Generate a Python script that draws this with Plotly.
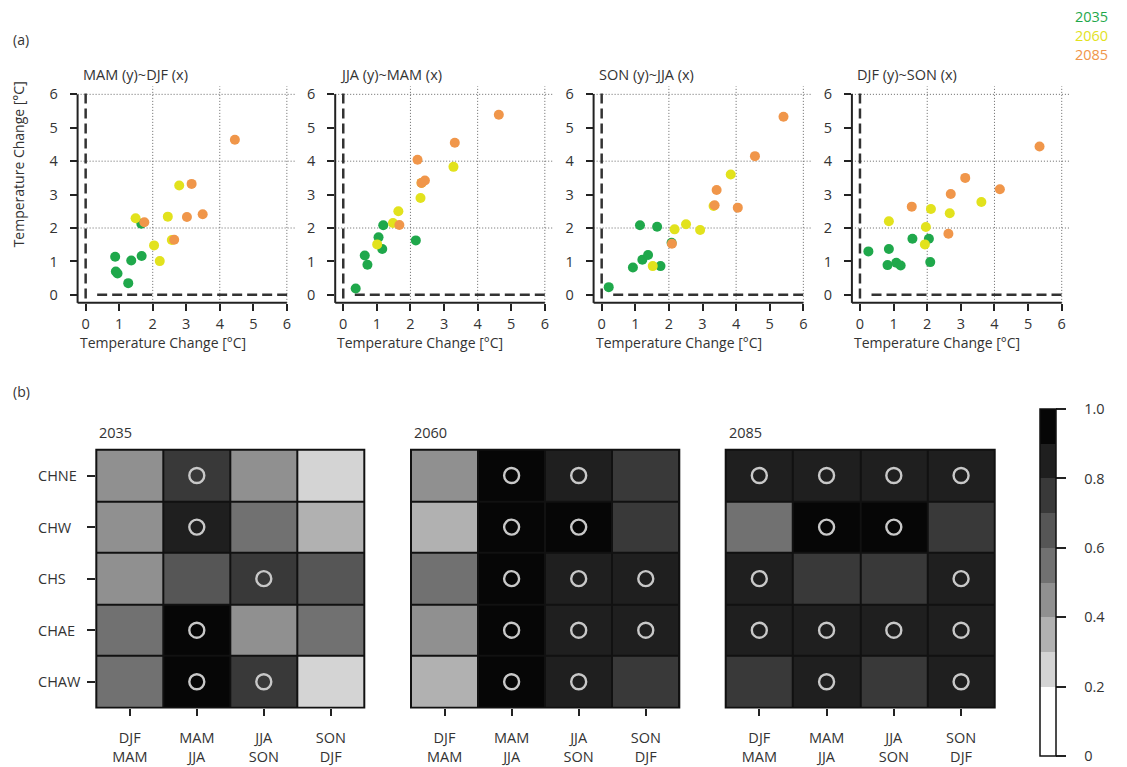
import plotly.graph_objects as go

W, H = 1127, 767
FONT = "Open Sans"
TXT = "#333333"
AX = "#222222"

# ---------------- data ----------------
years = ["2035", "2060", "2085"]
year_colors = ["#1fa84b", "#e2e21d", "#f0964a"]
panel_titles = ["MAM (y)~DJF (x)", "JJA (y)~MAM (x)", "SON (y)~JJA (x)", "DJF (y)~SON (x)"]
axis_title = "Temperature Change [°C]"
scatter_ticks = [0, 1, 2, 3, 4, 5, 6]
grid_vals = [2, 4, 6]

# panel 1: MAM (y) vs DJF (x)
p1_x_2035 = [0.88, 0.90, 0.95, 1.27, 1.36, 1.67, 1.66]
p1_y_2035 = [1.14, 0.70, 0.64, 0.35, 1.03, 1.16, 2.13]
p1_x_2060 = [1.49, 2.04, 2.21, 2.45, 2.79, 2.57]
p1_y_2060 = [2.29, 1.48, 1.01, 2.34, 3.27, 1.64]
p1_x_2085 = [1.75, 2.64, 3.02, 3.16, 3.49, 4.45]
p1_y_2085 = [2.17, 1.65, 2.33, 3.32, 2.41, 4.64]

# panel 2: JJA (y) vs MAM (x)
p2_x_2035 = [0.37, 0.64, 0.72, 1.05, 1.16, 1.19, 2.16]
p2_y_2035 = [0.19, 1.18, 0.90, 1.72, 1.37, 2.08, 1.63]
p2_x_2060 = [1.01, 1.48, 1.64, 2.30, 2.33, 3.28]
p2_y_2060 = [1.51, 2.15, 2.50, 2.90, 3.35, 3.83]
p2_x_2085 = [1.67, 2.21, 2.33, 2.43, 3.32, 4.63]
p2_y_2085 = [2.09, 4.04, 3.35, 3.42, 4.55, 5.39]

# panel 3: SON (y) vs JJA (x)
p3_x_2035 = [0.21, 0.93, 1.21, 1.38, 1.14, 1.65, 1.75, 2.08]
p3_y_2035 = [0.23, 0.82, 1.05, 1.19, 2.08, 2.04, 0.86, 1.56]
p3_x_2060 = [1.52, 2.17, 2.51, 2.93, 3.33, 3.84]
p3_y_2060 = [0.86, 1.96, 2.11, 1.94, 2.66, 3.60]
p3_x_2085 = [2.09, 3.36, 3.42, 4.05, 4.56, 5.41]
p3_y_2085 = [1.53, 2.68, 3.14, 2.61, 4.15, 5.33]

# panel 4: DJF (y) vs SON (x)
p4_x_2035 = [0.25, 0.86, 0.82, 1.08, 1.21, 1.56, 2.05, 2.09]
p4_y_2035 = [1.30, 1.37, 0.89, 0.96, 0.88, 1.68, 1.68, 0.98]
p4_x_2060 = [0.86, 1.96, 1.93, 2.11, 2.67, 3.61]
p4_y_2060 = [2.20, 2.03, 1.51, 2.57, 2.44, 2.78]
p4_x_2085 = [1.54, 2.63, 2.70, 3.13, 4.16, 5.34]
p4_y_2085 = [2.64, 1.83, 3.02, 3.50, 3.16, 4.44]

regions = ["CHNE", "CHW", "CHS", "CHAE", "CHAW"]
season_pairs = ["DJF<br>MAM", "MAM<br>JJA", "JJA<br>SON", "SON<br>DJF"]

hm_2035 = [[0.45, 0.75, 0.45, 0.25],
           [0.45, 0.85, 0.55, 0.35],
           [0.45, 0.65, 0.75, 0.65],
           [0.55, 0.95, 0.45, 0.55],
           [0.55, 0.95, 0.75, 0.25]]
sig_2035 = [[0, 1, 0, 0],
            [0, 1, 0, 0],
            [0, 0, 1, 0],
            [0, 1, 0, 0],
            [0, 1, 1, 0]]
hm_2060 = [[0.45, 0.95, 0.85, 0.75],
           [0.35, 0.95, 0.95, 0.75],
           [0.55, 0.95, 0.85, 0.85],
           [0.45, 0.95, 0.85, 0.85],
           [0.35, 0.95, 0.85, 0.75]]
sig_2060 = [[0, 1, 1, 0],
            [0, 1, 1, 0],
            [0, 1, 1, 1],
            [0, 1, 1, 1],
            [0, 1, 1, 0]]
hm_2085 = [[0.85, 0.85, 0.85, 0.85],
           [0.55, 0.95, 0.95, 0.75],
           [0.85, 0.75, 0.75, 0.85],
           [0.85, 0.85, 0.85, 0.85],
           [0.75, 0.85, 0.75, 0.85]]
sig_2085 = [[1, 1, 1, 1],
            [0, 1, 1, 0],
            [1, 0, 0, 1],
            [1, 1, 1, 1],
            [0, 1, 0, 1]]

band_edges = [0.0, 0.2, 0.3, 0.4, 0.5, 0.6, 0.7, 0.8, 0.9, 1.0]
band_colors = ["#ffffff", "#d4d4d4", "#b1b1b1", "#909090", "#717171",
               "#565656", "#393939", "#1f1f1f", "#060606"]
cbar_ticks = [0, 0.2, 0.4, 0.6, 0.8, 1.0]
cbar_ticktext = ["0", "0.2", "0.4", "0.6", "0.8", "1.0"]

# ---------------- layout helpers ----------------
def fx(px):
    return px / W

def fy(py):
    return 1 - py / H

def axnames(n):
    s = "" if n == 1 else str(n)
    return "x" + s, "y" + s, "xaxis" + s, "yaxis" + s

RNG = [-0.24, 6.24]
scatter_px = [(77.6, 294.9), (335.2, 552.9), (593.6, 811.4), (851.9, 1069.8)]
scatter_py = (84.65, 302.05)
heat_px = [(96.3, 364.3), (411.0, 679.3), (725.7, 994.7)]
heat_py = (449.5, 708.3)
cbar_px = (1039.5, 408.3, 757.0)  # left, top, bottom

fig = go.Figure()
shapes = []
annotations = []

panels = [
    [(p1_x_2035, p1_y_2035), (p1_x_2060, p1_y_2060), (p1_x_2085, p1_y_2085)],
    [(p2_x_2035, p2_y_2035), (p2_x_2060, p2_y_2060), (p2_x_2085, p2_y_2085)],
    [(p3_x_2035, p3_y_2035), (p3_x_2060, p3_y_2060), (p3_x_2085, p3_y_2085)],
    [(p4_x_2035, p4_y_2035), (p4_x_2060, p4_y_2060), (p4_x_2085, p4_y_2085)],
]

axis_font = dict(family=FONT, size=14.5, color=TXT)
GRID = dict(color="#666666", width=1, dash="1px,2px")
ZERO = dict(color="#333333", width=2.5, dash="10px,5px")

for i, series in enumerate(panels):
    xa, ya, xkey, ykey = axnames(i + 1)
    for (xs, ys), col, yr in zip(series, year_colors, years):
        fig.add_trace(go.Scatter(x=xs, y=ys, mode="markers", xaxis=xa, yaxis=ya,
                                 marker=dict(size=10, color=col, line=dict(width=0)),
                                 name=yr, showlegend=False, hoverinfo="x+y"))
    x0, x1 = scatter_px[i]
    common = dict(range=RNG, tickvals=scatter_ticks, ticks="outside", ticklen=7,
                  tickwidth=1.5, tickcolor=AX, showgrid=False, zeroline=False,
                  showline=False, tickfont=axis_font, fixedrange=True)
    fig.layout[xkey] = dict(domain=[fx(x0), fx(x1)], anchor=ya,
                            ticklabelstandoff=1, **common)
    fig.layout[ykey] = dict(domain=[fy(scatter_py[1]), fy(scatter_py[0])],
                            anchor=xa, ticklabelstandoff=9, **common)
    # dotted grid
    for g in grid_vals:
        shapes.append(dict(type="line", xref=xa, yref=f"{ya} domain", x0=g, x1=g, y0=0, y1=1,
                           line=GRID, layer="below"))
        shapes.append(dict(type="line", xref=f"{xa} domain", yref=ya, x0=0, x1=1, y0=g, y1=g,
                           line=GRID, layer="below"))
    # dashed zero lines
    shapes.append(dict(type="line", xref=xa, yref=f"{ya} domain", x0=0, x1=0, y0=0.02, y1=0.98,
                       line=ZERO, layer="below"))
    shapes.append(dict(type="line", xref=f"{xa} domain", yref=ya, x0=0.09, x1=0.98, y0=0, y1=0,
                       line=ZERO, layer="below"))
    # L-shaped axis lines (corner to 6)
    scale = (x1 - x0) / (RNG[1] - RNG[0])
    px6 = x0 + (6 - RNG[0]) * scale
    py6 = scatter_py[1] - (6 - RNG[0]) * scale
    shapes.append(dict(type="line", xref="paper", yref="paper", x0=fx(x0), x1=fx(x0),
                       y0=fy(scatter_py[1]), y1=fy(py6), line=dict(color=AX, width=2)))
    shapes.append(dict(type="line", xref="paper", yref="paper", x0=fx(x0), x1=fx(px6),
                       y0=fy(scatter_py[1]), y1=fy(scatter_py[1]), line=dict(color=AX, width=2)))
    # title
    annotations.append(dict(text=panel_titles[i], xref="paper", yref="paper",
                            x=fx(x0 + 3), y=fy(72.5), xanchor="left", yanchor="middle",
                            showarrow=False, font=dict(family=FONT, size=14.5, color=TXT)))
    # x axis title
    annotations.append(dict(text=axis_title, xref="paper", yref="paper",
                            x=fx(x0 + 85), y=fy(341.5), xanchor="center", yanchor="middle",
                            showarrow=False, font=dict(family=FONT, size=14, color=TXT)))

# y axis title (panel 1 only)
annotations.append(dict(text=axis_title, xref="paper", yref="paper", x=fx(18), y=fy(163),
                        xanchor="center", yanchor="middle", textangle=-90, showarrow=False,
                        font=dict(family=FONT, size=14, color=TXT)))

# legend text (colored)
for k, (yr, col) in enumerate(zip(years, year_colors)):
    annotations.append(dict(text=yr, xref="paper", yref="paper", x=fx(1110), y=fy(15 + 18.7 * k),
                            xanchor="right", yanchor="middle", showarrow=False,
                            font=dict(family=FONT, size=14.5, color=col)))

# panel labels
annotations.append(dict(text="(a)", xref="paper", yref="paper", x=fx(11), y=fy(38),
                        xanchor="left", yanchor="middle", showarrow=False,
                        font=dict(family=FONT, size=14, color=TXT)))
annotations.append(dict(text="(b)", xref="paper", yref="paper", x=fx(11), y=fy(391),
                        xanchor="left", yanchor="middle", showarrow=False,
                        font=dict(family=FONT, size=14, color=TXT)))

# ---------------- heatmaps ----------------
colorscale = []
for lo, hi, c in zip(band_edges[:-1], band_edges[1:], band_colors):
    colorscale.append([lo, c])
    colorscale.append([hi, c])

heat_data = [(hm_2035, sig_2035), (hm_2060, sig_2060), (hm_2085, sig_2085)]
cols_idx = list(range(len(season_pairs)))
rows_idx = list(range(len(regions)))
PAD = "\u00a0\u00a0\u00a0\u00a0"

for j, (z, sig) in enumerate(heat_data):
    xa, ya, xkey, ykey = axnames(5 + j)
    x0, x1 = heat_px[j]
    show_cb = (j == 2)
    fig.add_trace(go.Heatmap(
        z=z, x=cols_idx, y=rows_idx, xaxis=xa, yaxis=ya, zmin=0, zmax=1,
        colorscale=colorscale, xgap=2, ygap=2, showscale=show_cb,
        colorbar=dict(x=fx(cbar_px[0]), xanchor="left", xref="paper", xpad=0, ypad=0,
                      y=fy(cbar_px[2]), yanchor="bottom",
                      len=(cbar_px[2] - cbar_px[1]) / H, lenmode="fraction",
                      thickness=16, outlinecolor="#111111", outlinewidth=1.5,
                      tickvals=cbar_ticks, ticktext=[PAD + t for t in cbar_ticktext],
                      ticks="outside", ticklen=10, tickwidth=1.5, tickcolor=AX,
                      tickfont=dict(family=FONT, size=14.5, color=TXT)),
        hoverinfo="z"))
    sx, sy = [], []
    for r in rows_idx:
        for c in cols_idx:
            if sig[r][c]:
                sx.append(c)
                sy.append(r)
    fig.add_trace(go.Scatter(x=sx, y=sy, xaxis=xa, yaxis=ya, mode="markers",
                             marker=dict(symbol="circle-open", size=15, color="#c8c8c8",
                                         line=dict(width=2.4, color="#c8c8c8")),
                             showlegend=False, hoverinfo="skip"))
    fig.layout[xkey] = dict(domain=[fx(x0), fx(x1)], anchor=ya, range=[-0.5, 3.5],
                            tickvals=cols_idx, ticktext=season_pairs, ticks="outside",
                            ticklen=7, tickwidth=1.5, tickcolor=AX, showgrid=False,
                            zeroline=False, showline=False, ticklabelstandoff=10,
                            tickfont=dict(family=FONT, size=14.5, color=TXT), fixedrange=True)
    fig.layout[ykey] = dict(domain=[fy(heat_py[1]), fy(heat_py[0])], anchor=xa,
                            range=[4.5, -0.5], tickvals=rows_idx,
                            ticktext=[""] * len(regions),
                            ticks="outside" if j == 0 else "", ticklen=8, tickwidth=1.5,
                            tickcolor=AX, showgrid=False, zeroline=False, showline=False,
                            fixedrange=True)
    # black background for cell borders + outer frame
    shapes.append(dict(type="rect", xref="paper", yref="paper", x0=fx(x0), x1=fx(x1),
                       y0=fy(heat_py[1]), y1=fy(heat_py[0]), fillcolor="#111111",
                       line=dict(color="#111111", width=2), layer="below"))
    annotations.append(dict(text=years[j], xref="paper", yref="paper", x=fx(x0 + 1),
                            y=fy(432), xanchor="left", yanchor="middle", showarrow=False,
                            font=dict(family=FONT, size=14.5, color=TXT)))

# row labels (left aligned, as in the reference)
for r, name in enumerate(regions):
    annotations.append(dict(text=name, xref="paper", yref="y5", x=fx(36), y=r,
                            xanchor="left", yanchor="middle", showarrow=False,
                            font=dict(family=FONT, size=14.5, color=TXT)))

fig.update_layout(width=W, height=H, margin=dict(l=0, r=0, t=0, b=0),
                  paper_bgcolor="white", plot_bgcolor="rgba(0,0,0,0)",
                  shapes=shapes, annotations=annotations, showlegend=False,
                  font=dict(family=FONT, color=TXT))

fig.write_html("out.html", config={"displayModeBar": False},
               post_script="document.body.style.margin='0';document.body.style.overflow='hidden';")
